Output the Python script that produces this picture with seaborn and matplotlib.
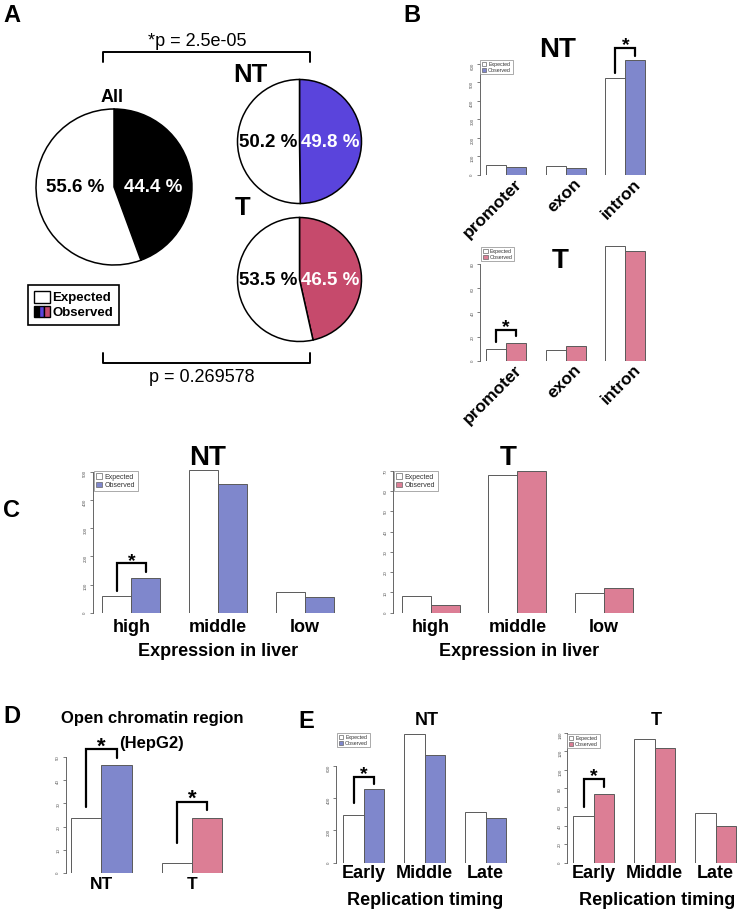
import matplotlib
matplotlib.use("Agg")
import matplotlib.pyplot as plt
import seaborn as sns
import pandas as pd
from matplotlib.patches import Patch
from matplotlib.legend_handler import HandlerTuple
from matplotlib.transforms import ScaledTranslation

# ---- data ----
pie_groups = ["All", "NT", "T"]
pie_expected = [55.6, 50.2, 53.5]
pie_observed = [44.4, 49.8, 46.5]
p_top = "*p = 2.5e-05"
p_bottom = "p = 0.269578"

region_cats = ["promoter", "exon", "intron"]
region_nt_exp = [54, 50, 523]
region_nt_obs = [45, 39, 622]
region_t_exp = [9.4, 8.9, 94.9]
region_t_obs = [14.9, 11.9, 91.0]

expr_cats = ["high", "middle", "low"]
expr_nt_exp = [60, 506, 73]
expr_nt_obs = [124, 456, 57]
expr_t_exp = [8.1, 67.6, 9.9]
expr_t_obs = [3.9, 70.0, 12.0]

chrom_cats = ["NT", "T"]
chrom_exp = [23.7, 4.2]
chrom_obs = [46.6, 23.8]

rep_cats = ["Early", "Middle", "Late"]
rep_nt_exp = [293, 795, 316]
rep_nt_obs = [458, 665, 279]
rep_t_exp = [50, 133.5, 53]
rep_t_obs = [74, 123, 39.5]

NT_PIE = "#5a44dc"
T_PIE = "#c64a6c"
NT_BAR = "#7f87cc"
T_BAR = "#dc7e95"
BW = 0.67

sns.set_style("white")
plt.rcParams["font.family"] = ["Liberation Sans", "DejaVu Sans"]
plt.rcParams["text.color"] = "black"
plt.rcParams["xtick.color"] = "black"
plt.rcParams["ytick.color"] = "black"
plt.rcParams["axes.labelcolor"] = "black"

W, H = 740, 911
fig = plt.figure(figsize=(W / 100, H / 100), dpi=100)


def ftext(x, y, s, **kw):
    fig.text(x / W, 1 - y / H, s, **kw)


def long_df(cats, exp, obs):
    return pd.DataFrame({
        "cat": list(cats) * 2,
        "kind": ["Expected"] * len(cats) + ["Observed"] * len(cats),
        "value": list(exp) + list(obs),
    })


def bar_panel(spine_x, first_x, period, zero_y, ppu, ytop, ticks,
              cats, exp, obs, color, fs, pad):
    n = len(cats)
    xl = -BW / 2 - (first_x - spine_x) / period
    xr = n - 1 + BW / 2 + 0.1
    ax = fig.add_axes([spine_x / W, 1 - zero_y / H,
                       (xr - xl) * period / W, ytop * ppu / H])
    ax.patch.set_alpha(0)
    sns.barplot(data=long_df(cats, exp, obs), x="cat", y="value", hue="kind",
                order=cats, hue_order=["Expected", "Observed"],
                palette={"Expected": "white", "Observed": color}, saturation=1,
                width=BW, edgecolor="#5a5a5a", linewidth=0.7,
                errorbar=None, legend=False, ax=ax)
    ax.set_xlim(xl, xr)
    ax.set_ylim(0, ytop)
    ax.set_xlabel("")
    ax.set_ylabel("")
    for s in ["top", "right", "bottom"]:
        ax.spines[s].set_visible(False)
    ax.spines["left"].set_bounds(ticks[0], ticks[-1])
    ax.spines["left"].set_color("#666666")
    ax.spines["left"].set_linewidth(0.7)
    ax.set_yticks(ticks)
    ax.tick_params(axis="y", left=True, length=2.5, width=0.6, color="#666666",
                   labelsize=3.2, labelcolor="#555555", labelrotation=90, pad=1.2)
    ax.tick_params(axis="x", length=0, pad=pad)
    ax.set_xticks(range(n))
    ax.set_xticklabels(cats, fontsize=fs, fontweight="bold", color="black")
    return ax


def small_legend(ax, color, x, y, fs=3.8):
    leg = ax.legend(handles=[Patch(fc="white", ec="#666666", lw=0.5),
                             Patch(fc=color, ec="#666666", lw=0.5)],
                    labels=["Expected", "Observed"], loc="upper left",
                    bbox_to_anchor=(x / W, 1 - y / H), bbox_transform=fig.transFigure,
                    fontsize=fs, frameon=True, fancybox=False, edgecolor="#888888",
                    framealpha=1, handlelength=0.8, handleheight=0.8,
                    handletextpad=0.4, borderpad=0.35, labelspacing=0.15,
                    borderaxespad=0)
    leg.get_frame().set_linewidth(0.5)
    for t in leg.get_texts():
        t.set_color("#333333")


def bracket(ax, i, y_left, y_top, y_right, size=14):
    xl, xr = i - BW / 4, i + BW / 4
    ax.plot([xl, xl, xr, xr], [y_left, y_top, y_top, y_right], color="black",
            lw=1.6, clip_on=False, solid_joinstyle="miter")
    ax.annotate("*", (i, y_top), xytext=(0, 1.5), textcoords="offset points",
                ha="center", va="center", fontsize=size, fontweight="bold",
                annotation_clip=False)


# ---- panel A: pies on an overlay in pixel coordinates ----
ax0 = fig.add_axes([0, 0, 1, 1])
ax0.axis("off")
pie_pos = [(114, 187, 78), (299.5, 141.5, 62), (299.5, 279.5, 62)]
pie_cols = ["black", NT_PIE, T_PIE]
for (cx, cy, r), e, o, c in zip(pie_pos, pie_expected, pie_observed, pie_cols):
    ax0.pie([o, e], colors=[c, "white"], startangle=90, counterclock=False,
            center=(cx, H - cy), radius=r, frame=True,
            wedgeprops=dict(edgecolor="black", linewidth=1.1))
    ax0.text(cx - 0.5 * r, H - cy - 1, f"{e} %", ha="center", va="center",
             fontsize=13.5, fontweight="bold", color="black")
    ax0.text(cx + 0.5 * r, H - cy - 1, f"{o} %", ha="center", va="center",
             fontsize=13.5, fontweight="bold", color="white")
ax0.set_xlim(0, W)
ax0.set_ylim(0, H)
ax0.plot([103, 103, 310, 310], [H - 62, H - 52, H - 52, H - 62], color="black", lw=1.4)
ax0.plot([103, 103, 310, 310], [H - 353, H - 363, H - 363, H - 353], color="black", lw=1.4)
ftext(197, 46, p_top, ha="center", va="baseline", fontsize=13)
ftext(202, 382, p_bottom, ha="center", va="baseline", fontsize=13)
ftext(112, 102, pie_groups[0], ha="center", va="baseline", fontsize=13, fontweight="bold")
ftext(250, 82, pie_groups[1], ha="center", va="baseline", fontsize=18.5, fontweight="bold")
ftext(243, 215, pie_groups[2], ha="center", va="baseline", fontsize=18.5, fontweight="bold")

obs_handle = (Patch(fc="black", ec="black"), Patch(fc=NT_PIE, ec="black"),
              Patch(fc=T_PIE, ec="black"))
legA = ax0.legend(handles=[Patch(fc="white", ec="black"), obs_handle],
                  labels=["Expected", "Observed"], loc="upper left",
                  bbox_to_anchor=(28 / W, 1 - 285 / H), bbox_transform=fig.transFigure,
                  handler_map={tuple: HandlerTuple(ndivide=None, pad=0)},
                  prop={"weight": "bold", "size": 9.5}, frameon=True, fancybox=False,
                  edgecolor="black", framealpha=1, handlelength=1.2, handleheight=1.0,
                  handletextpad=0.2, borderpad=0.45, labelspacing=0.1, borderaxespad=0)
legA.get_frame().set_linewidth(1.2)

# ---- panel letters ----
for letter, x, y in [("A", 3, 22), ("B", 403, 22), ("C", 3, 517), ("D", 3, 723), ("E", 298, 728)]:
    ftext(x, y, letter, ha="left", va="baseline", fontsize=17, fontweight="bold")

# ---- panel B ----
shift = ScaledTranslation(0.08, 0, fig.dpi_scale_trans)
axb1 = bar_panel(479.5, 486, 59.7, 175, 0.185, 700, list(range(0, 601, 100)),
                 region_cats, region_nt_exp, region_nt_obs, NT_BAR, 12.5, 1)
axb2 = bar_panel(480, 486, 59.7, 360.7, 1.209, 100, list(range(0, 81, 20)),
                 region_cats, region_t_exp, region_t_obs, T_BAR, 12.5, 1)
for ax in (axb1, axb2):
    for lab in ax.get_xticklabels():
        lab.set_rotation(45)
        lab.set_rotation_mode("anchor")
        lab.set_ha("right")
        lab.set_va("top")
        lab.set_transform(lab.get_transform() + shift)
small_legend(axb1, NT_BAR, 480, 60)
small_legend(axb2, T_BAR, 481.5, 247)
bracket(axb1, 2, 552, 686, 643)
bracket(axb2, 0, 15.7, 25.4, 20.4)
ftext(558, 57, "NT", ha="center", va="baseline", fontsize=20, fontweight="bold")
ftext(560, 268, "T", ha="center", va="baseline", fontsize=20, fontweight="bold")

# ---- panel C ----
axc1 = bar_panel(92.5, 102.3, 86.7, 612.7, 0.282, 560, list(range(0, 501, 100)),
                 expr_cats, expr_nt_exp, expr_nt_obs, NT_BAR, 13, 4.5)
axc2 = bar_panel(392.7, 401.7, 86.7, 612.7, 2.03, 72, list(range(0, 71, 10)),
                 expr_cats, expr_t_exp, expr_t_obs, T_BAR, 13, 4.5)
small_legend(axc1, NT_BAR, 94, 471, fs=5)
small_legend(axc2, T_BAR, 394, 471, fs=5)
bracket(axc1, 0, 78, 175, 145)
ftext(208, 465, "NT", ha="center", va="baseline", fontsize=20, fontweight="bold")
ftext(508, 465, "T", ha="center", va="baseline", fontsize=20, fontweight="bold")
ftext(218, 656, "Expression in liver", ha="center", va="baseline", fontsize=13, fontweight="bold")
ftext(519, 656, "Expression in liver", ha="center", va="baseline", fontsize=13, fontweight="bold")

# ---- panel D ----
axd = bar_panel(65.5, 71, 90.7, 872.7, 2.31, 55, list(range(0, 51, 10)),
                chrom_cats, chrom_exp, chrom_obs, NT_BAR, 12.5, 3.3)
axd.patches[3].set_facecolor(T_BAR)
bracket(axd, 0, 28.3, 53.4, 49.5, size=16)
bracket(axd, 1, 13, 30.7, 27.1, size=16)
ftext(152, 723, "Open chromatin region", ha="center", va="baseline", fontsize=12, fontweight="bold")
ftext(152, 748, "(HepG2)", ha="center", va="baseline", fontsize=12, fontweight="bold")

# ---- panel E ----
axe1 = bar_panel(336, 343.3, 61, 862.7, 0.1615, 820, list(range(0, 601, 200)),
                 rep_cats, rep_nt_exp, rep_nt_obs, NT_BAR, 13, 1.8)
axe2 = bar_panel(567.3, 573.3, 61, 862.7, 0.929, 140, list(range(0, 141, 20)),
                 rep_cats, rep_t_exp, rep_t_obs, T_BAR, 13, 1.8)
small_legend(axe1, NT_BAR, 337, 733)
small_legend(axe2, T_BAR, 567, 734)
bracket(axe1, 0, 368, 532, 487)
bracket(axe2, 0, 60, 90, 81)
ftext(427, 725, "NT", ha="center", va="baseline", fontsize=13, fontweight="bold")
ftext(656, 725, "T", ha="center", va="baseline", fontsize=13, fontweight="bold")
ftext(425, 905, "Replication timing", ha="center", va="baseline", fontsize=13, fontweight="bold")
ftext(657, 905, "Replication timing", ha="center", va="baseline", fontsize=13, fontweight="bold")

fig.savefig("out.png", dpi=100)
